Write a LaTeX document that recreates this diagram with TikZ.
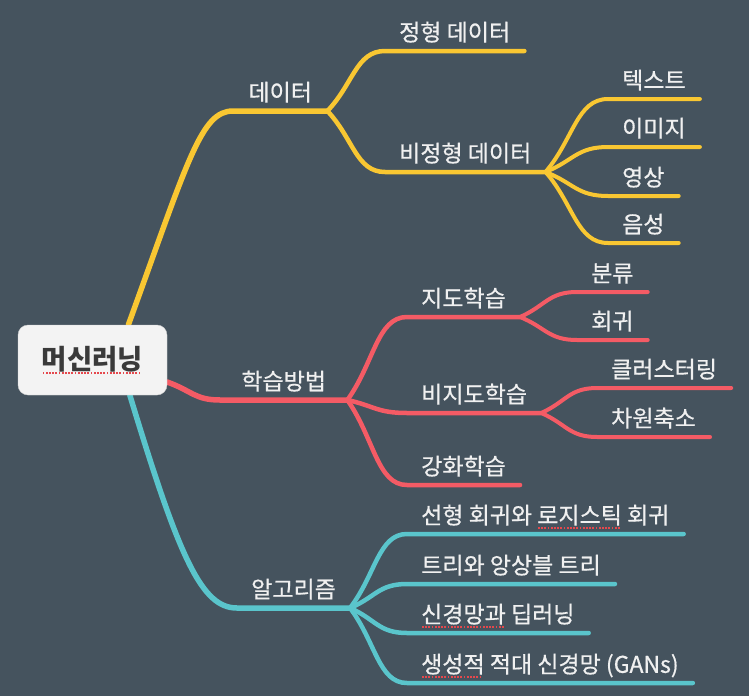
\documentclass[tikz,border=0pt]{standalone}
\usepackage{fontspec}
\setmainfont{Noto Sans CJK KR}
\newfontfamily\labelfont{Noto Sans CJK KR}[FakeBold=0.6]
\usepackage{xcolor}
\usepackage{tikz}
\usetikzlibrary{positioning, calc, backgrounds}
\definecolor{slatebg}{HTML}{45535E}
\definecolor{labelwhite}{HTML}{F0F0F0}
\definecolor{mapyellow}{HTML}{F9C732}
\definecolor{mapred}{HTML}{F45B65}
\definecolor{mapteal}{HTML}{5AC5CC}
\definecolor{rootfill}{HTML}{F3F3F3}
\definecolor{rootline}{HTML}{D2D2D2}
\definecolor{rootink}{HTML}{3A3A3A}
\definecolor{typored}{HTML}{E5484D}

% red dotted underline (spell mark)
\newlength\typowd
\newcommand\typo[1]{\settowidth\typowd{#1}%
  \rlap{\textcolor{typored}{\raisebox{-5pt}{\hbox to \typowd{\leaders\hbox to 3.2pt{\hss\rule{1.8pt}{1.8pt}\hss}\hfill}}}}#1}

\begin{document}
\begin{tikzpicture}[x=1pt, y=-1pt,
  topic/.style={anchor=south west, text=labelwhite, font=\labelfont\fontsize{23}{27}\selectfont,
                inner xsep=14pt, inner ysep=0pt, text height=19pt, text depth=10pt},
  twig/.style={to path={.. controls ($(\tikztostart)!.45!(\tikztotarget)$)
                 and ($(\tikztostart |- \tikztotarget)!.5!(\tikztotarget)$) .. (\tikztotarget) \tikztonodes}},
  limbline/.style={line width=5.5pt, line cap=round},
  twigline/.style={line width=4.5pt, line cap=round},
  leafline/.style={line width=4pt, line cap=round}]
  \useasboundingbox (0,0) rectangle (749,696);

  \node[draw=rootline, fill=rootfill, rounded corners=10pt, minimum width=149pt, minimum height=70pt,
        inner sep=0pt, text=rootink, font=\fontsize{27.5}{32}\selectfont\bfseries] (root) at (92.5,360)
    {\typo{머신러닝}};

  % first level
  \node[topic, minimum width=94pt] (data) at (233,111) {데이터};
  \node[topic, minimum width=127pt] (method) at (220,400) {학습방법};
  \node[topic, minimum width=110pt] (algo) at (237,608) {알고리즘};

  \coordinate (rootup) at ($(root.north west)!.74!(root.north east)$);
  \coordinate (rootdown) at ($(root.south west)!.75!(root.south east)$);
  \begin{scope}[on background layer]
    \fill[slatebg] (0,0) rectangle (749,696);
    \draw[limbline, mapyellow] (rootup) .. controls +(60,-165) and +(-32,0) .. (data.south west) -- (data.south east);
    \draw[limbline, mapred] ([yshift=-22pt]root.east) .. controls +(25,9) and +(-25,0) .. (method.south west) -- (method.south east);
    \draw[limbline, mapteal] (rootdown) .. controls +(50,165) and +(-35,0) .. (algo.south west) -- (algo.south east);
  \end{scope}

  % data
  \node[topic] (structured) at (385,51) {정형 데이터};
  \node[topic] (unstructured) at (385,172) {비정형 데이터};
  \node[topic] (txt) at (608,99) {텍스트};
  \node[topic] (img) at (608,147) {이미지};
  \node[topic] (vid) at (608,196) {영상};
  \node[topic] (aud) at (608,243) {음성};
  \foreach \kid in {structured, unstructured}
    \draw[twigline, mapyellow] (data.south east) to[twig] (\kid.south west) -- (\kid.south east);
  \foreach \kid in {txt, img, vid, aud}
    \draw[leafline, mapyellow] (unstructured.south east) to[twig] (\kid.south west) -- (\kid.south east);

  % learning methods
  \node[topic] (supervised) at (407,317) {지도학습};
  \node[topic] (unsupervised) at (407,413) {비지도학습};
  \node[topic] (reinforce) at (407,485) {강화학습};
  \node[topic] (classify) at (577,292) {분류};
  \node[topic] (regress) at (577,340) {회귀};
  \node[topic] (cluster) at (597,388) {클러스터링};
  \node[topic] (reduce) at (597,437) {차원축소};
  \foreach \kid in {supervised, unsupervised, reinforce}
    \draw[twigline, mapred] (method.south east) to[twig] (\kid.south west) -- (\kid.south east);
  \foreach \kid in {classify, regress}
    \draw[leafline, mapred] (supervised.south east) to[twig] (\kid.south west) -- (\kid.south east);
  \foreach \kid in {cluster, reduce}
    \draw[leafline, mapred] (unsupervised.south east) to[twig] (\kid.south west) -- (\kid.south east);

  % algorithms
  \node[topic] (linear) at (407,534) {선형 회귀와 \typo{로지스틱} 회귀};
  \node[topic] (trees) at (407,584) {트리와 앙상블 트리};
  \node[topic] (nets) at (407,633) {\typo{신경망과} 딥러닝};
  \node[topic] (gans) at (407,683) {\typo{생성적} 적대 신경망 (GANs)};
  \foreach \kid in {linear, trees, nets, gans}
    \draw[twigline, mapteal] (algo.south east) to[twig] (\kid.south west) -- (\kid.south east);
\end{tikzpicture}
\end{document}
